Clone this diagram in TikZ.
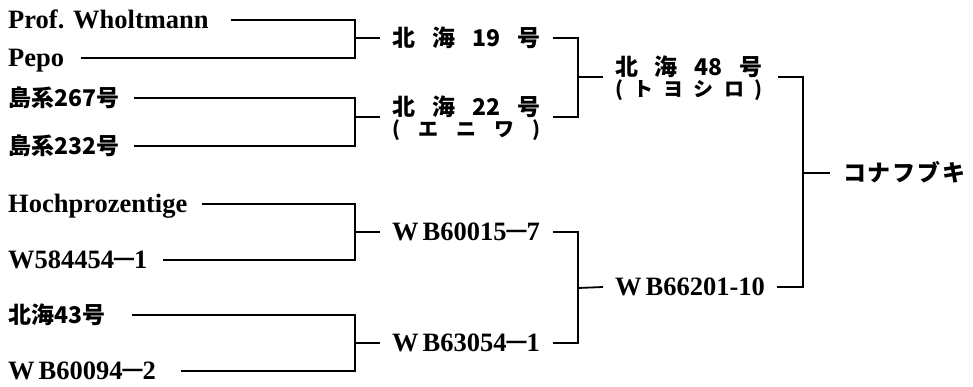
\documentclass[tikz,border=0pt]{standalone}
\usepackage{fontspec}
\setmainfont{Liberation Serif}
\newfontfamily\jpf{Noto Sans CJK JP}
\usetikzlibrary{calc}
\newcommand\dsh{\raisebox{1pt}{\scalebox{0.75}[1.3]{—}}}
\newcommand\twol[2]{\vtop{\baselineskip=21pt\lineskiplimit=-100pt\hbox{#1}\hbox{#2}}}
\tikzset{
  lat/.style={anchor=west, inner sep=0pt, font=\bfseries\fontsize{26.5}{28}\selectfont, text height=17.5pt, text depth=0pt},
  jp/.style={anchor=west, inner sep=0pt, font=\jpf\bfseries\fontsize{23}{26}\selectfont, text height=17.4pt, text depth=0pt},
  two/.style={anchor=west, inner sep=0pt, font=\jpf\bfseries\fontsize{23}{26}\selectfont, text height=20pt, text depth=22.6pt},
  ln/.style={line width=1.8pt, line join=miter}
}
\newcommand\sm{\fontsize{20}{21}\selectfont}
\newcommand\WB{W\hspace{4pt}B}
\begin{document}
\begin{tikzpicture}[x=1pt,y=-1pt]
\useasboundingbox[fill=white] (0,0) rectangle (973,386);
% leaves
\node[lat] (a1) at (8,20) {Prof. Wholtmann};
\node[lat] (a2) at (8,58) {Pepo};
\node[jp]  (a3) at (8,98) {島系267号};
\node[jp]  (a4) at (8,146) {島系232号};
\node[lat] (a5) at (8,204) {Hochprozentige};
\node[lat] (a6) at (8,260) {W584454\dsh1};
\node[jp]  (a7) at (8,315) {北海43号};
\node[lat] (a8) at (8,371) {\WB60094\dsh2};
% junctions level 1
\coordinate (j1) at (355,38);
\coordinate (j2) at (355,117);
\coordinate (j3) at (355,232);
\coordinate (j4) at (355,343);
\draw[ln] ([xshift=22pt]a1.east) -| (j1) |- ([xshift=17pt]a2.east);
\draw[ln] ([xshift=15pt]a3.east) -| (j2) |- ([xshift=15pt]a4.east);
\draw[ln] ([xshift=15pt]a5.east) -| (j3) |- ([xshift=15pt]a6.east);
\draw[ln] ([xshift=27pt]a7.east) -| (j4) |- ([xshift=25pt]a8.east);
% level 1 labels
\node[jp]  (b1) at (392,38) {\makebox[148pt][s]{北\hfill 海\hfill 19\hfill 号}};
\node[two] (b2) at (392,117) {\twol{\makebox[148pt][s]{北\hfill 海\hfill 22\hfill 号}}{\sm\makebox[148pt][s]{(\hfill エ\hfill ニ\hfill ワ\hfill )}}};
\node[lat] (b3) at (392,232) {\WB60015\dsh7};
\node[lat] (b4) at (392,343) {\WB63054\dsh1};
\draw[ln] (j1) -- ([xshift=-12pt]b1.west);
\draw[ln] (j2) -- ([xshift=-12pt]b2.west);
\draw[ln] (j3) -- ([xshift=-12pt]b3.west);
\draw[ln] (j4) -- ([xshift=-12pt]b4.west);
% level 2
\coordinate (k1) at (578,77);
\coordinate (k2) at (578,288);
\draw[ln] ([xshift=13pt]b1.east) -| (k1) |- ([xshift=13pt]b2.east);
\draw[ln] ([xshift=13pt]b3.east) -| (k2) |- ([xshift=13pt]b4.east);
\node[two] (c1) at (615,77) {\twol{\makebox[147pt][s]{北\hfill 海\hfill 48\hfill 号}}{\sm\makebox[147pt][s]{(\hfill ト\hfill ヨ\hfill シ\hfill ロ\hfill )}}};
\node[lat] (c2) at (615,287) {\WB66201-10};
\draw[ln] (k1) -- ([xshift=-12pt]c1.west);
\draw[ln] (k2) -- ([xshift=-12pt]c2.west);
% level 3
\coordinate (m) at (803,173);
\draw[ln] ([xshift=16pt]c1.east) -| (m) |- ([xshift=12pt]c2.east);
\node[jp] (d) at (843,173) {\makebox[122pt][s]{コ\hfill ナ\hfill フ\hfill ブ\hfill キ}};
\draw[ln] (m) -- ([xshift=-13pt]d.west);
\end{tikzpicture}
\end{document}
